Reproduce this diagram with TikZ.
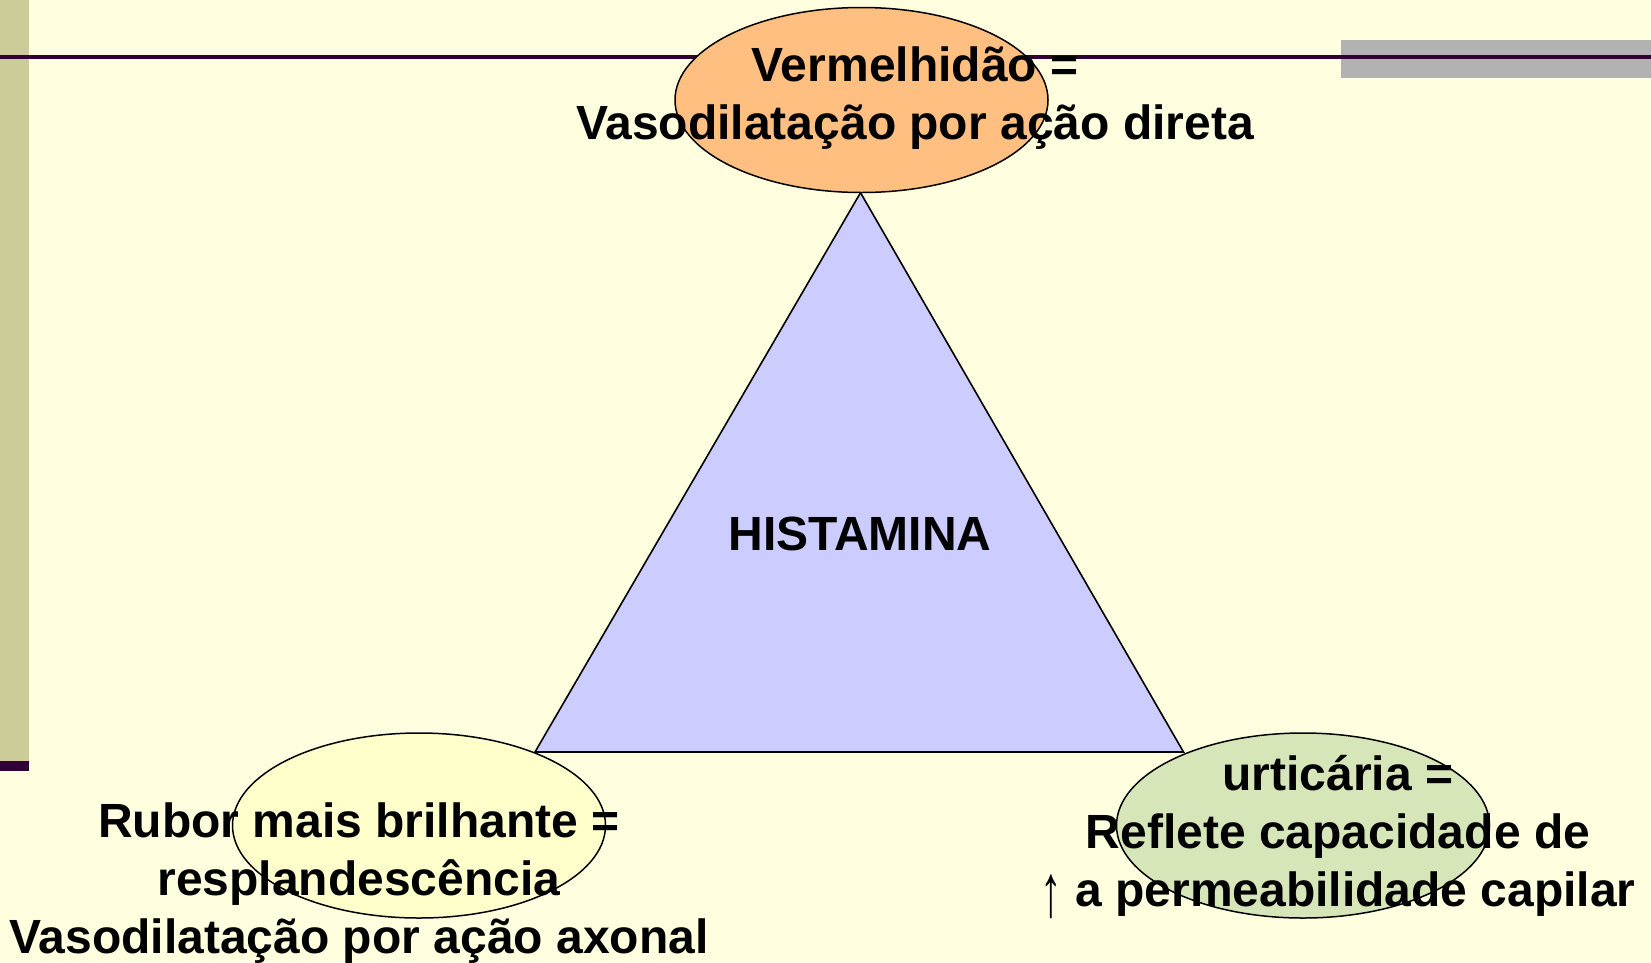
\documentclass[tikz,border=0pt]{standalone}
\usepackage{fontspec}
\usepackage{graphicx}
\setmainfont{Liberation Sans}
\usetikzlibrary{shapes.geometric}
\definecolor{bg}{HTML}{FFFFE0}
\definecolor{sidebar}{HTML}{CCCC99}
\definecolor{darkline}{HTML}{330033}
\definecolor{graybar}{HTML}{B2B2B2}
\definecolor{orangefill}{HTML}{FFBF80}
\definecolor{yellowfill}{HTML}{FFFFCC}
\definecolor{greenfill}{HTML}{D7E6B9}
\definecolor{trifill}{HTML}{CCCCFF}
\newcommand{\tallup}{\raisebox{-0.2em}{\scalebox{0.9}[1.55]{\mdseries ↑}}}
\begin{document}
\begin{tikzpicture}[x=1pt,y=-1pt,
  blob/.style={ellipse, draw=black, line width=1.5pt, minimum width=373pt, minimum height=185pt, inner sep=0pt},
  lbl/.style={font=\fontsize{48}{58}\selectfont\bfseries, align=center, text=black, inner sep=0pt}]
\path[fill=bg] (0,0) rectangle (1651,962);
\useasboundingbox (0,0) rectangle (1651,962);
% decorations
\fill[sidebar] (0,0) rectangle (28.5,761);
\fill[darkline] (0,761) rectangle (28.5,771);
\fill[graybar] (1341,40) rectangle (1651,78);
\fill[darkline] (0,54.5) rectangle (1651,58.5);
% triangle
\coordinate (apex) at (860.5,192.7);
\coordinate (bl) at (535,752);
\coordinate (br) at (1183.5,752);
\draw[fill=trifill, line width=1.6pt, line join=miter] (apex) -- (bl) -- (br) -- cycle;
\node[lbl] (hist) at (860,534) {HISTAMINA};
% ellipses
\node[blob, fill=orangefill] (topE) at (861.5,100) {};
\node[blob, fill=yellowfill] (leftE) at (419,825.5) {};
\node[blob, fill=greenfill] (rightE) at (1303,825.5) {};
% texts
\node[lbl] (topT) at (915,98) {Vermelhidão =\\Vasodilatação por ação direta};
\node[lbl] (leftT) at (359,883) {Rubor mais brilhante =\\resplandescência\\Vasodilatação por ação axonal};
\node[lbl] (rightT) at (1338,837) {urticária =\\Reflete capacidade de\\\tallup{} a permeabilidade capilar};
\end{tikzpicture}
\end{document}
